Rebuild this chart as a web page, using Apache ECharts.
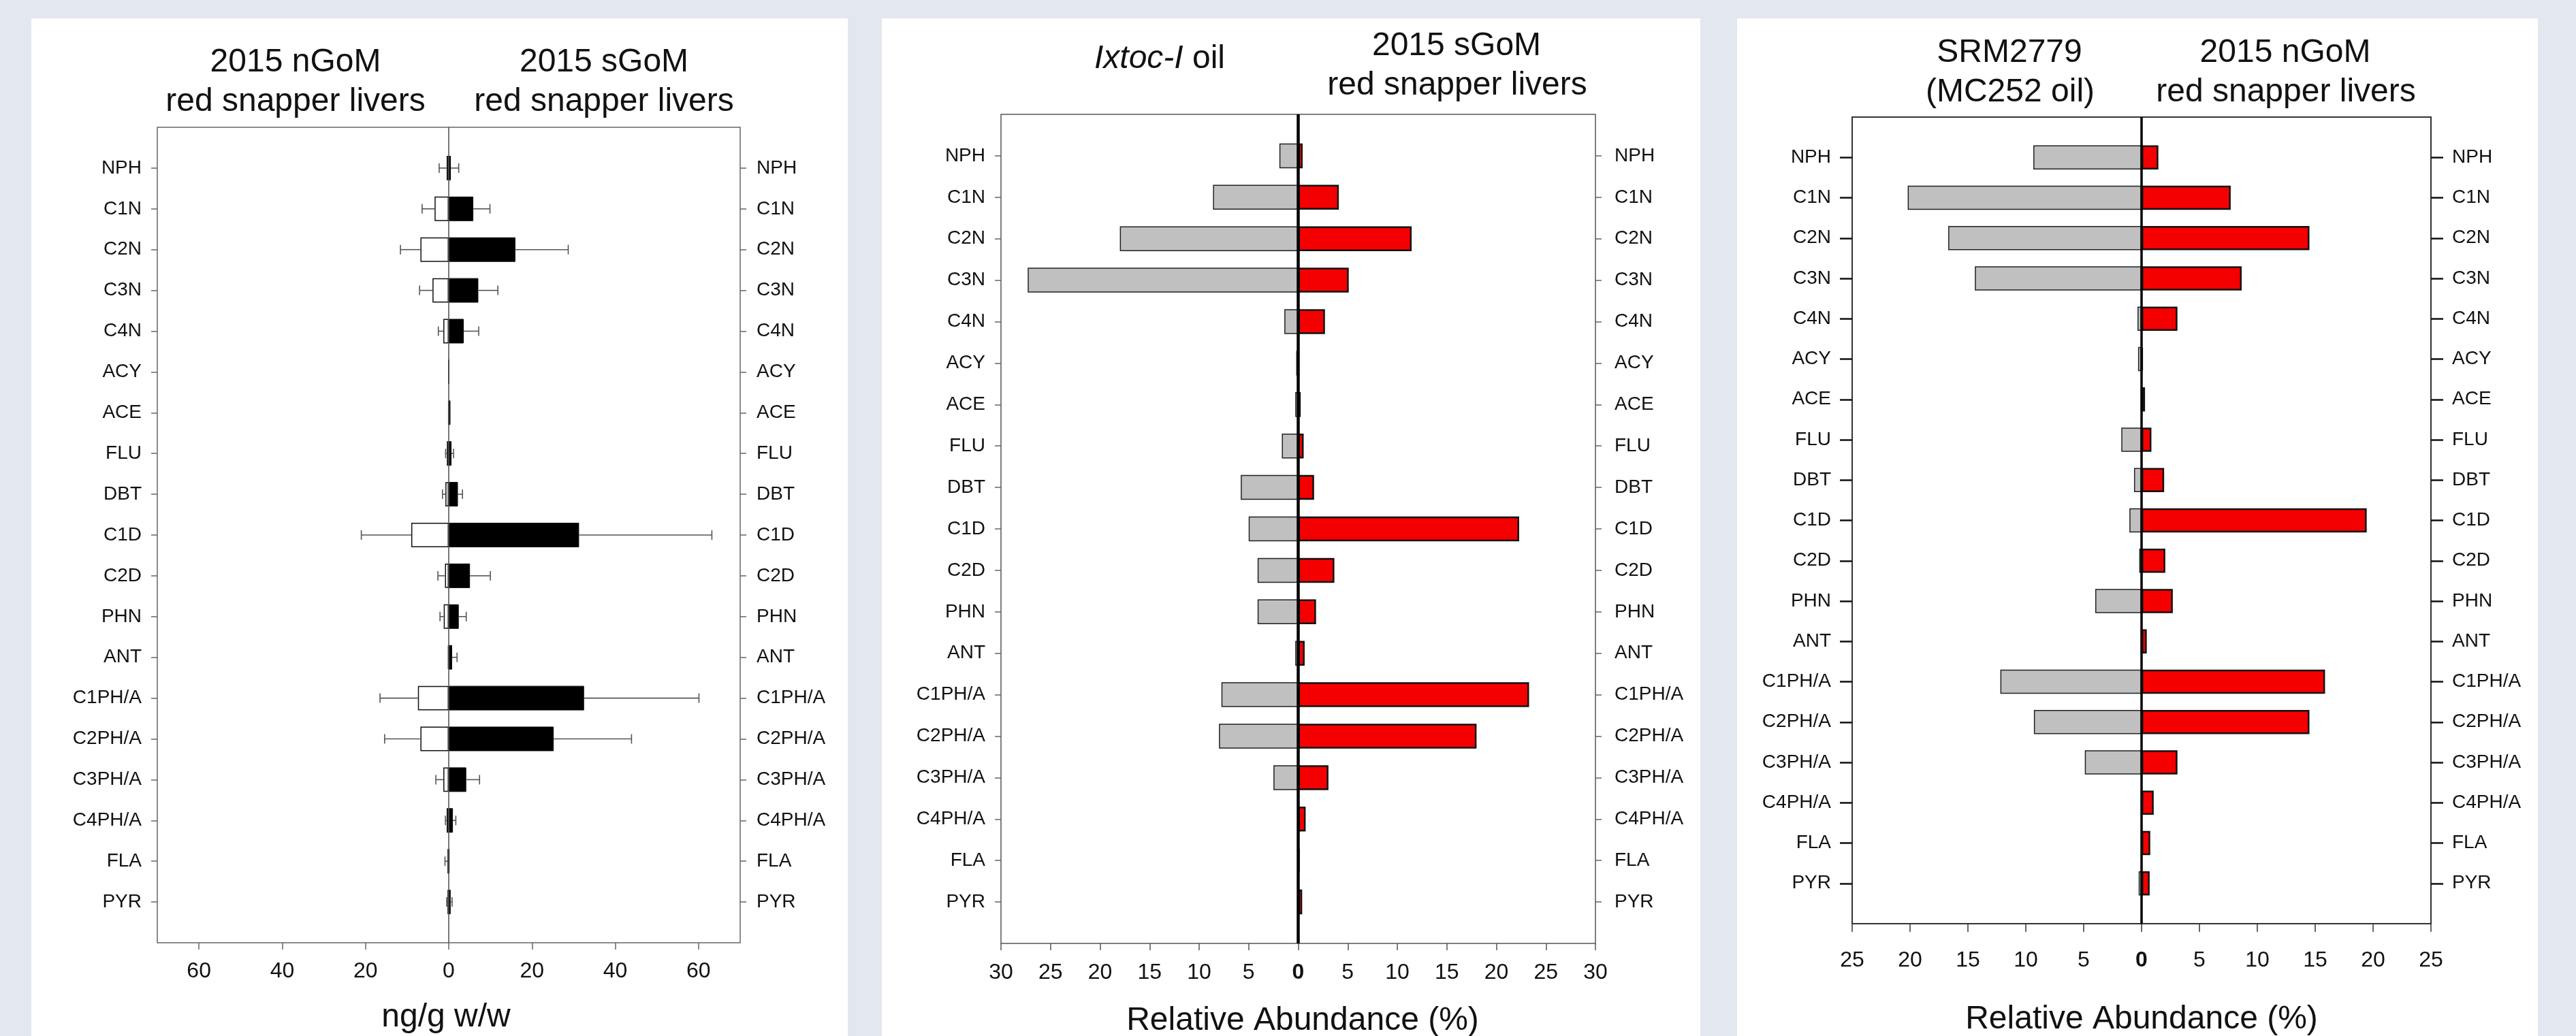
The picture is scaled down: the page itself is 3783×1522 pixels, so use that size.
<!DOCTYPE html>
<html><head><meta charset="utf-8">
<script src="https://cdn.jsdelivr.net/npm/echarts@6/dist/echarts.min.js"></script>
<style>html,body{margin:0;padding:0;background:#e3e7ef;overflow:hidden}#c{width:3783px;height:1522px}</style>
</head><body><div id="c"></div>
<script>
// ---------- data ----------
const categories = ['NPH','C1N','C2N','C3N','C4N','ACY','ACE','FLU','DBT','C1D','C2D','PHN','ANT','C1PH/A','C2PH/A','C3PH/A','C4PH/A','FLA','PYR'];

// Panel 1: ng/g w/w (mean and SD)
const nGoMLiverMean = [0.5,3.4,6.8,3.9,1.3,0.05,0.1,0.45,0.8,9.0,0.9,1.2,0.2,7.4,6.8,1.3,0.5,0.3,0.3];
const nGoMLiverSD   = [1.8,3.0,4.8,3.1,1.2,0,0,0.3,0.7,12.0,1.7,0.9,0,9.1,8.6,1.8,0.3,0.6,0.2];
const sGoMLiverMean = [0.5,5.9,16.0,7.1,3.6,0.05,0.4,0.65,2.2,31.3,5.1,2.4,0.8,32.5,25.2,4.2,1.0,0.2,0.45];
const sGoMLiverSD   = [1.9,4.0,12.7,4.7,3.6,0,0,0.5,1.1,31.9,4.9,1.8,1.2,27.6,18.7,3.2,0.7,0,0.35];
const panel1Ticks = [-60,-40,-20,0,20,40,60];

// Panel 2: relative abundance (%)
const ixtocOil    = [1.9,8.6,18.0,27.3,1.4,0.2,0.3,1.65,5.8,5.0,4.1,4.1,0.3,7.75,8.0,2.5,0.05,0.05,0.1];
const sGoMLiverRel = [0.45,4.1,11.45,5.1,2.7,0.05,0.25,0.55,1.6,22.3,3.65,1.8,0.65,23.3,18.0,3.05,0.75,0.15,0.4];

// Panel 3: relative abundance (%)
const srm2779Oil   = [9.35,20.2,16.7,14.4,0.35,0.3,0.05,1.75,0.65,1.05,0.2,4.0,0.05,12.2,9.3,4.9,0.05,0.02,0.25];
const nGoMLiverRel = [1.45,7.7,14.5,8.65,3.1,0.1,0.3,0.85,1.95,19.45,2.05,2.7,0.45,15.85,14.5,3.1,1.05,0.75,0.7];

// ---------- helpers ----------
const FONT = "'Liberation Sans', Arial, sans-serif";
const TXT = '#111';
const padCats = [''].concat(categories, ['']);
const pad = arr => [null].concat(arr, [null]);
const neg = arr => arr.map(v => -v);

const grids = [
  {left: 231, top: 187, width: 856, height: 1198, border: '#666', bw: 1.5},
  {left: 1470, top: 168, width: 873, height: 1218, border: '#555', bw: 1.5},
  {left: 2720, top: 172, width: 850, height: 1185, border: '#333', bw: 2}
];
const tickCfg = [
  {yLen: 9, yW: 1.5, yC: '#666', xLen: 10, xW: 1.5, xC: '#666', lm: 23, rm: 24, xm: 26},
  {yLen: 9, yW: 1.5, yC: '#666', xLen: 10, xW: 1.5, xC: '#555', lm: 23, rm: 28, xm: 27},
  {yLen: 18, yW: 2.5, yC: '#111', xLen: 12, xW: 1.5, xC: '#333', lm: 31, rm: 31, xm: 38}
];

const gridOpts = grids.map(g => ({left: g.left, top: g.top, width: g.width, height: g.height,
  show: true, borderColor: g.border, borderWidth: g.bw, backgroundColor: 'transparent'}));

const tickInterval = (i) => i > 0 && i < padCats.length - 1;

const yAxes = [];
grids.forEach((g, gi) => {
  const t = tickCfg[gi];
  ['left','right'].forEach(pos => {
    yAxes.push({
      gridIndex: gi, type: 'category', data: padCats, inverse: true, boundaryGap: false, position: pos,
      axisLine: {show: false, onZero: false},
      axisTick: {show: true, inside: false, length: t.yLen, interval: tickInterval, lineStyle: {color: t.yC, width: t.yW}},
      axisLabel: {interval: 0, margin: pos === 'left' ? t.lm : t.rm, fontSize: 28, color: TXT, fontFamily: FONT},
      splitLine: {show: false}
    });
  });
});

const zeroBold = v => v === 0 ? '{b|0}' : String(Math.abs(v));
const richB = {b: {fontWeight: 'bold', fontSize: 32, color: TXT, fontFamily: FONT}};

const xAxes = [
  {gridIndex: 0, type: 'value', min: -70, max: 70,
    axisLine: {show: false, onZero: false},
    axisTick: {show: true, length: tickCfg[0].xLen, customValues: panel1Ticks, lineStyle: {color: tickCfg[0].xC, width: tickCfg[0].xW}},
    axisLabel: {customValues: panel1Ticks, formatter: v => String(Math.abs(v)), fontSize: 32, margin: tickCfg[0].xm, color: TXT, fontFamily: FONT},
    splitLine: {show: false}},
  {gridIndex: 1, type: 'value', min: -30, max: 30, interval: 5,
    axisLine: {show: false, onZero: false},
    axisTick: {show: true, length: tickCfg[1].xLen, lineStyle: {color: tickCfg[1].xC, width: tickCfg[1].xW}},
    axisLabel: {formatter: zeroBold, rich: richB, fontSize: 32, margin: tickCfg[1].xm, color: TXT, fontFamily: FONT},
    splitLine: {show: false}},
  {gridIndex: 2, type: 'value', min: -25, max: 25, interval: 5,
    axisLine: {show: false, onZero: false},
    axisTick: {show: true, length: tickCfg[2].xLen, lineStyle: {color: tickCfg[2].xC, width: tickCfg[2].xW}},
    axisLabel: {formatter: zeroBold, rich: richB, fontSize: 32, margin: tickCfg[2].xm, color: TXT, fontFamily: FONT},
    splitLine: {show: false}}
];

function zeroLine(color, width) {
  return {silent: true, symbol: 'none', label: {show: false},
    lineStyle: {color: color, width: width, type: 'solid'}, data: [{xAxis: 0}], animation: false};
}

function errorData(means, sds, sign) {
  const out = [];
  means.forEach((m, i) => {
    if (sds[i] > 0) out.push([i + 1, sign * m, sign * (m + sds[i])]);
  });
  return out;
}
function errRender(params, api) {
  const y = api.value(0);
  const a = api.coord([api.value(1), y]);
  const b = api.coord([api.value(2), y]);
  const h = 7;
  const st = {stroke: '#555', lineWidth: 1.6};
  return {type: 'group', children: [
    {type: 'line', shape: {x1: a[0], y1: a[1], x2: b[0], y2: b[1]}, style: st},
    {type: 'line', shape: {x1: b[0], y1: b[1] - h, x2: b[0], y2: b[1] + h}, style: st}
  ]};
}

const series = [
  // Panel 1
  {type: 'bar', xAxisIndex: 0, yAxisIndex: 0, data: pad(neg(nGoMLiverMean)), barWidth: '60%',
    itemStyle: {color: '#ffffff', borderColor: '#111', borderWidth: 1.5}, z: 3},
  {type: 'bar', xAxisIndex: 0, yAxisIndex: 0, data: pad(sGoMLiverMean), barWidth: '60%', barGap: '-100%',
    itemStyle: {color: '#000000', borderColor: '#000', borderWidth: 1}, z: 3,
    markLine: zeroLine('#555', 1.6)},
  {type: 'custom', xAxisIndex: 0, yAxisIndex: 0, renderItem: errRender, encode: {y: 0, x: [1, 2]},
    data: errorData(nGoMLiverMean, nGoMLiverSD, -1), z: 4},
  {type: 'custom', xAxisIndex: 0, yAxisIndex: 0, renderItem: errRender, encode: {y: 0, x: [1, 2]},
    data: errorData(sGoMLiverMean, sGoMLiverSD, 1), z: 4},
  // Panel 2
  {type: 'bar', xAxisIndex: 1, yAxisIndex: 2, data: pad(neg(ixtocOil)), barWidth: '60%',
    itemStyle: {color: '#c0c0c0', borderColor: '#222', borderWidth: 1.5}, z: 3},
  {type: 'bar', xAxisIndex: 1, yAxisIndex: 2, data: pad(sGoMLiverRel), barWidth: '60%', barGap: '-100%',
    itemStyle: {color: '#f50000', borderColor: '#111', borderWidth: 2.5}, z: 3,
    markLine: zeroLine('#000', 4.5)},
  // Panel 3
  {type: 'bar', xAxisIndex: 2, yAxisIndex: 4, data: pad(neg(srm2779Oil)), barWidth: '60%',
    itemStyle: {color: '#c0c0c0', borderColor: '#222', borderWidth: 1.5}, z: 3},
  {type: 'bar', xAxisIndex: 2, yAxisIndex: 4, data: pad(nGoMLiverRel), barWidth: '60%', barGap: '-100%',
    itemStyle: {color: '#f50000', borderColor: '#111', borderWidth: 2.5}, z: 3,
    markLine: zeroLine('#000', 3.5)}
];

function txt(text, x, y, size, extra) {
  return Object.assign({type: 'text', x: x, y: y, z: 10, silent: true,
    style: Object.assign({text: text, fill: TXT, font: size + 'px ' + FONT, align: 'center', verticalAlign: 'middle'}, extra || {})});
}

const graphics = [
  {type: 'rect', shape: {x: 46, y: 27, width: 1199, height: 1510}, style: {fill: '#fff'}, z: -10, silent: true},
  {type: 'rect', shape: {x: 1295, y: 27, width: 1202, height: 1510}, style: {fill: '#fff'}, z: -10, silent: true},
  {type: 'rect', shape: {x: 2551, y: 27, width: 1176, height: 1510}, style: {fill: '#fff'}, z: -10, silent: true},
  // Panel 1 titles
  txt('2015 nGoM', 434, 92, 48), txt('red snapper livers', 434, 150, 48),
  txt('2015 sGoM', 887, 92, 48), txt('red snapper livers', 887, 150, 48),
  // Panel 2 titles
  {type: 'text', x: 1703, y: 87, z: 10, silent: true, style: {
    text: '{i|Ixtoc-I}{n|\u00a0oil}', align: 'center', verticalAlign: 'middle',
    rich: {i: {fontStyle: 'italic', fontSize: 48, fontFamily: FONT, fill: TXT},
           n: {fontSize: 48, fontFamily: FONT, fill: TXT}}}},
  txt('2015 sGoM', 2139, 68, 48), txt('red snapper livers', 2140, 126, 48),
  // Panel 3 titles
  txt('SRM2779', 2951, 78, 48), txt('(MC252 oil)', 2952, 136, 48),
  txt('2015 nGoM', 3356, 78, 48), txt('red snapper livers', 3357, 136, 48),
  // Axis titles
  txt('ng/g w/w', 655, 1495, 48),
  txt('Relative Abundance (%)', 1913, 1500, 48),
  txt('Relative Abundance (%)', 3145, 1498, 48)
];

const chart = echarts.init(document.getElementById('c'), null, {renderer: 'canvas', width: 3783, height: 1522});
chart.setOption({
  backgroundColor: '#e3e7ef',
  animation: false,
  grid: gridOpts,
  xAxis: xAxes,
  yAxis: yAxes,
  series: series,
  graphic: graphics
});
</script>
</body></html>
